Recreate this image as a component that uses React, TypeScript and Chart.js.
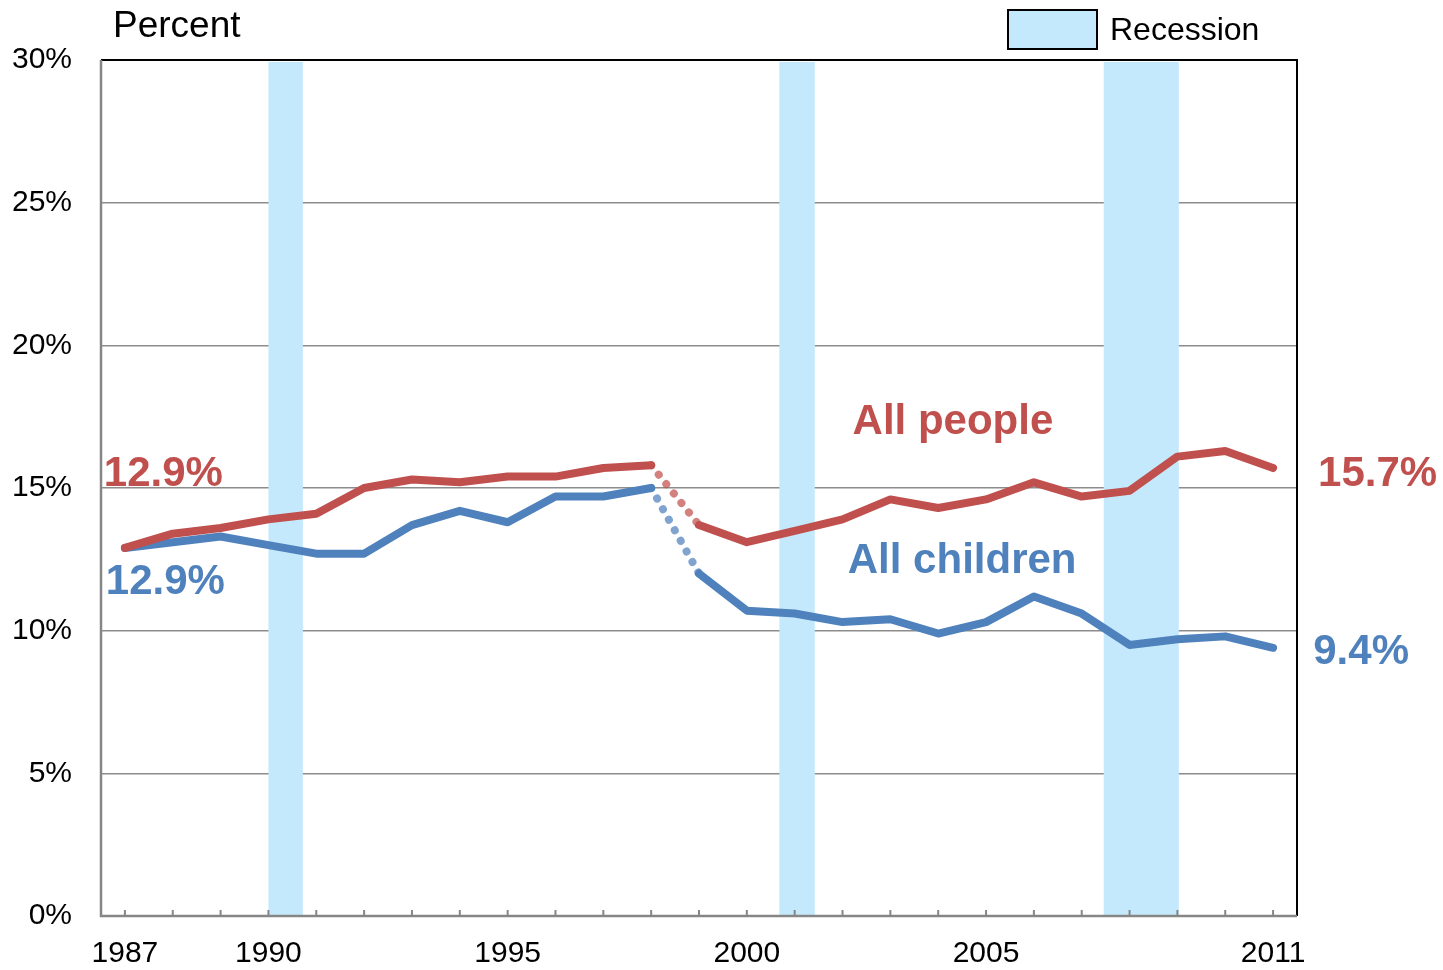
import React, { useEffect, useRef } from "react";
import { Chart, registerables } from "chart.js";

Chart.register(...registerables);

const years = [1987, 1988, 1989, 1990, 1991, 1992, 1993, 1994, 1995, 1996, 1997, 1998, 1999, 2000, 2001, 2002, 2003, 2004, 2005, 2006, 2007, 2008, 2009, 2010, 2011];
const allPeople = [12.9, 13.4, 13.6, 13.9, 14.1, 15.0, 15.3, 15.2, 15.4, 15.4, 15.7, 15.8, 13.7, 13.1, 13.5, 13.9, 14.6, 14.3, 14.6, 15.2, 14.7, 14.9, 16.1, 16.3, 15.7];
const allChildren = [12.9, 13.1, 13.3, 13.0, 12.7, 12.7, 13.7, 14.2, 13.8, 14.7, 14.7, 15.0, 12.0, 10.7, 10.6, 10.3, 10.4, 9.9, 10.3, 11.2, 10.6, 9.5, 9.7, 9.8, 9.4];
const breakYear = 1998; // series break: dotted segment from 1998 to 1999
const xTickLabels = [1987, 1990, 1995, 2000, 2005, 2011];
const recessionStarts = [1990.0, 2000.68, 2007.46];
const recessionEnds = [1990.72, 2001.42, 2009.03];

const RED = "#C0504D";
const BLUE = "#4F81BD";
const RED_DOT = "rgba(192,80,77,0.72)";
const BLUE_DOT = "rgba(79,129,189,0.72)";
const REC = "#C5E9FC";
const FONT = "'Liberation Sans', Arial, sans-serif";

const overlay = {
  id: "overlay",
  beforeDatasetsDraw(chart: any) {
    const { ctx, chartArea, scales } = chart;
    const x = scales.x;
    ctx.save();
    ctx.fillStyle = REC;
    for (let i = 0; i < recessionStarts.length; i++) {
      const a = x.getPixelForValue(recessionStarts[i]);
      const b = x.getPixelForValue(recessionEnds[i]);
      ctx.fillRect(a, chartArea.top + 2, b - a, chartArea.bottom - chartArea.top - 2);
    }
    ctx.restore();
  },
  afterDraw(chart: any) {
    const { ctx, chartArea, scales } = chart;
    const x = scales.x;
    const y = scales.y;
    const { left, right, top, bottom } = chartArea;
    ctx.save();
    // frame
    ctx.lineWidth = 2;
    ctx.strokeStyle = "#000";
    ctx.beginPath();
    ctx.moveTo(left, top);
    ctx.lineTo(right, top);
    ctx.lineTo(right, bottom);
    ctx.stroke();
    ctx.strokeStyle = "#868686";
    ctx.lineWidth = 2.5;
    ctx.beginPath();
    ctx.moveTo(left, top);
    ctx.lineTo(left, bottom);
    ctx.lineTo(right, bottom);
    ctx.stroke();
    // inward tick marks
    ctx.lineWidth = 2;
    for (const yr of years) {
      const px = x.getPixelForValue(yr);
      ctx.beginPath();
      ctx.moveTo(px, bottom);
      ctx.lineTo(px, bottom - 6);
      ctx.stroke();
    }
    // title
    ctx.fillStyle = "#000";
    ctx.textBaseline = "middle";
    ctx.textAlign = "left";
    ctx.font = `37px ${FONT}`;
    ctx.fillText("Percent", 113, 27);
    // legend
    ctx.fillStyle = REC;
    ctx.fillRect(1008, 10, 89, 39);
    ctx.strokeStyle = "#000";
    ctx.lineWidth = 2;
    ctx.strokeRect(1008, 10, 89, 39);
    ctx.fillStyle = "#000";
    ctx.font = `32px ${FONT}`;
    ctx.fillText("Recession", 1110, 31);
    // annotations (in data units)
    const label = (t: string, xv: number, yv: number, c: string) => {
      ctx.fillStyle = c;
      ctx.font = `bold 42px ${FONT}`;
      ctx.textAlign = "left";
      ctx.textBaseline = "middle";
      ctx.fillText(t, x.getPixelForValue(xv), y.getPixelForValue(yv));
    };
    label(allPeople[0].toFixed(1) + "%", 1986.56, 15.49, RED);
    label(allChildren[0].toFixed(1) + "%", 1986.6, 11.7, BLUE);
    label(allPeople[allPeople.length - 1].toFixed(1) + "%", 2011.94, 15.49, RED);
    label(allChildren[allChildren.length - 1].toFixed(1) + "%", 2011.84, 9.25, BLUE);
    label("All people", 2002.21, 17.31, RED);
    label("All children", 2002.11, 12.41, BLUE);
    ctx.restore();
  },
};

function makeDataset(label: string, values: number[], color: string, dotColor: string) {
  return {
    label,
    data: years.map((yr, i) => ({ x: yr, y: values[i] })),
    borderColor: color,
    borderWidth: 8,
    borderCapStyle: "round",
    borderJoinStyle: "round",
    pointRadius: 0,
    fill: false,
    tension: 0,
    segment: {
      borderDash: (c: any) => (c.p0.parsed.x === breakYear ? [0.1, 12] : undefined),
      borderColor: (c: any) => (c.p0.parsed.x === breakYear ? dotColor : undefined),
    },
  };
}

export default function App() {
  const ref = useRef<HTMLCanvasElement>(null);
  useEffect(() => {
    if (!ref.current) return;
    const chart = new Chart(ref.current, {
      type: "line",
      data: {
        datasets: [
          makeDataset("All people", allPeople, RED, RED_DOT) as any,
          makeDataset("All children", allChildren, BLUE, BLUE_DOT) as any,
        ],
      },
      options: {
        responsive: false,
        animation: false,
        layout: { padding: { left: 0, right: 146, top: 60, bottom: 0 } },
        plugins: { legend: { display: false }, tooltip: { enabled: false } },
        scales: {
          x: {
            type: "linear",
            min: 1986.5,
            max: 2011.5,
            grid: { display: false },
            border: { display: false },
            afterBuildTicks: (s: any) => {
              s.ticks = xTickLabels.map((v) => ({ value: v }));
            },
            afterFit: (s: any) => {
              s.height = 54;
            },
            ticks: {
              autoSkip: false,
              maxRotation: 0,
              padding: 12,
              color: "#000",
              font: { family: FONT, size: 30 },
              callback: (v: any) => String(v),
            },
          },
          y: {
            min: 0,
            max: 30,
            grid: { color: "#8c8c8c", lineWidth: 1.5, drawTicks: false },
            border: { display: false },
            afterFit: (s: any) => {
              s.width = 101;
            },
            ticks: {
              stepSize: 5,
              padding: 29,
              color: "#000",
              font: { family: FONT, size: 30 },
              callback: (v: any) => v + "%",
            },
          },
        },
      },
      plugins: [overlay],
    });
    return () => chart.destroy();
  }, []);
  return (
    <div style={{ position: "absolute", left: 0, top: 0, width: 1443, height: 970, background: "#fff" }}>
      <canvas ref={ref} width={1443} height={970} style={{ display: "block" }} />
    </div>
  );
}
